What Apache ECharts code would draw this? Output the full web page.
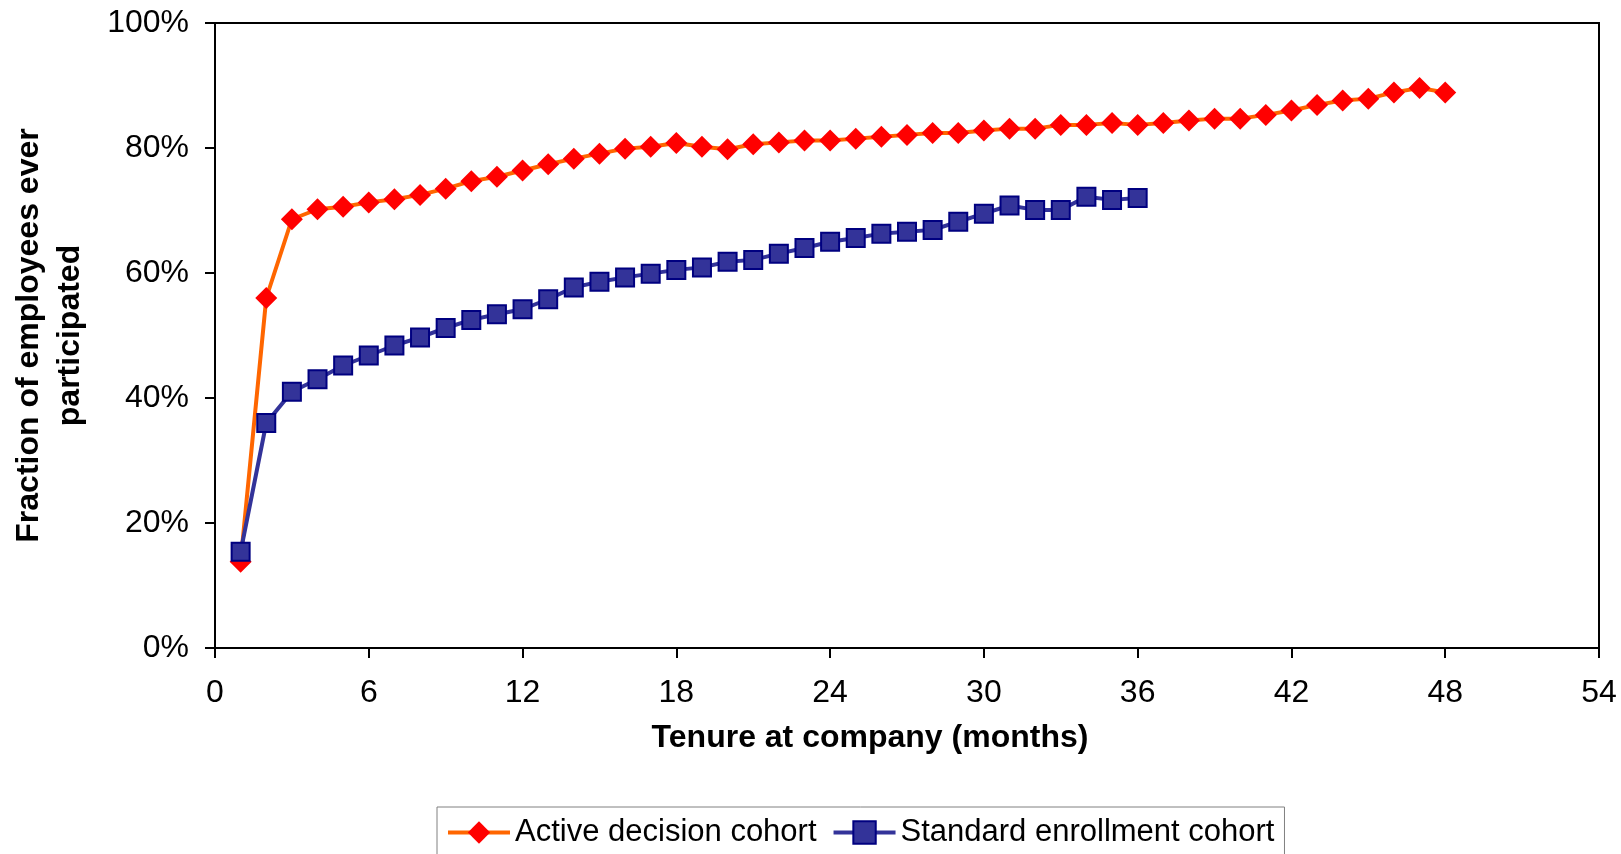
<!DOCTYPE html>
<html>
<head>
<meta charset="utf-8">
<script src="https://cdn.jsdelivr.net/npm/echarts@6/dist/echarts.min.js"></script>
<style>
html,body{margin:0;padding:0;background:#fff;}
#chart{width:1621px;height:854px;}
</style>
</head>
<body>
<div id="chart"></div>
<script>
// Tenure in months
var tenureActive = [1,2,3,4,5,6,7,8,9,10,11,12,13,14,15,16,17,18,19,20,21,22,23,24,25,26,27,28,29,30,31,32,33,34,35,36,37,38,39,40,41,42,43,44,45,46,47,48];
var tenureStandard = [1,2,3,4,5,6,7,8,9,10,11,12,13,14,15,16,17,18,19,20,21,22,23,24,25,26,27,28,29,30,31,32,33,34,35,36];
// Fraction ever participated (%)
var activeDecision = [13.8,56.0,68.6,70.2,70.6,71.3,71.8,72.5,73.5,74.7,75.4,76.4,77.4,78.3,79.1,79.9,80.2,80.8,80.2,79.8,80.6,80.9,81.2,81.2,81.5,81.8,82.1,82.4,82.4,82.8,83.1,83.1,83.7,83.7,84.0,83.7,84.0,84.4,84.7,84.7,85.3,86.0,86.9,87.6,87.9,88.9,89.6,88.9];
var standardEnrollment = [15.4,36.0,41.0,43.0,45.2,46.8,48.4,49.7,51.2,52.5,53.4,54.2,55.8,57.7,58.6,59.3,59.9,60.5,60.9,61.8,62.1,63.1,64.0,65.0,65.6,66.3,66.6,66.9,68.2,69.5,70.8,70.1,70.1,72.2,71.7,72.0];
var seriesNames = ['Active decision cohort','Standard enrollment cohort'];
var xTicks = {min:0, max:54, interval:6};
var yTicks = {min:0, max:100, interval:20};

function pairs(xs, ys){ return xs.map(function(x,i){ return [x, ys[i]]; }); }

var FONT = "'Liberation Sans', Arial, sans-serif";
var chart = echarts.init(document.getElementById('chart'));
chart.setOption({
  animation:false,
  backgroundColor:'#ffffff',
  textStyle:{fontFamily:FONT},
  grid:{left:215, right:22, top:23, bottom:206, show:true, borderColor:'#000', borderWidth:2, backgroundColor:'transparent'},
  legend:{
    data:seriesNames,
    left:437, top:807,
    orient:'horizontal',
    padding:[10,10,10,9],
    itemGap:15,
    itemWidth:62,
    itemHeight:28,
    borderColor:'#808080',
    borderWidth:1,
    lineStyle:{width:4},
    textStyle:{fontSize:31, color:'#000', fontFamily:FONT}
  },
  xAxis:{
    type:'value',
    min:xTicks.min, max:xTicks.max, interval:xTicks.interval,
    name:'Tenure at company (months)',
    nameLocation:'middle',
    nameGap:74,
    nameTextStyle:{fontSize:32, fontWeight:'bold', color:'#000', fontFamily:FONT, padding:[0,74,0,0]},
    axisLine:{lineStyle:{color:'#000', width:2}},
    axisTick:{show:true, length:10, lineStyle:{color:'#000', width:2}},
    axisLabel:{fontSize:32, color:'#000', margin:29, fontFamily:FONT},
    splitLine:{show:false}
  },
  yAxis:{
    type:'value',
    min:yTicks.min, max:yTicks.max, interval:yTicks.interval,
    name:'Fraction of employees ever\nparticipated',
    nameLocation:'middle',
    nameGap:124,
    nameTextStyle:{fontSize:32, fontWeight:'bold', color:'#000', fontFamily:FONT, lineHeight:41, align:'center'},
    axisLine:{show:true, lineStyle:{color:'#000', width:2}},
    axisTick:{show:true, length:10, lineStyle:{color:'#000', width:2}},
    axisLabel:{fontSize:32, color:'#000', margin:26, formatter:'{value}%', fontFamily:FONT},
    splitLine:{show:false}
  },
  series:[
    {
      name:seriesNames[0],
      type:'line',
      data:pairs(tenureActive, activeDecision),
      symbol:'diamond',
      symbolSize:22,
      lineStyle:{color:'#FF6600', width:4},
      itemStyle:{color:'#FF0000', borderWidth:0},
      z:2
    },
    {
      name:seriesNames[1],
      type:'line',
      data:pairs(tenureStandard, standardEnrollment),
      symbol:'rect',
      symbolSize:18,
      lineStyle:{color:'#333399', width:4},
      itemStyle:{color:'#333399', borderColor:'#000080', borderWidth:2},
      z:3
    }
  ]
});
</script>
</body>
</html>
